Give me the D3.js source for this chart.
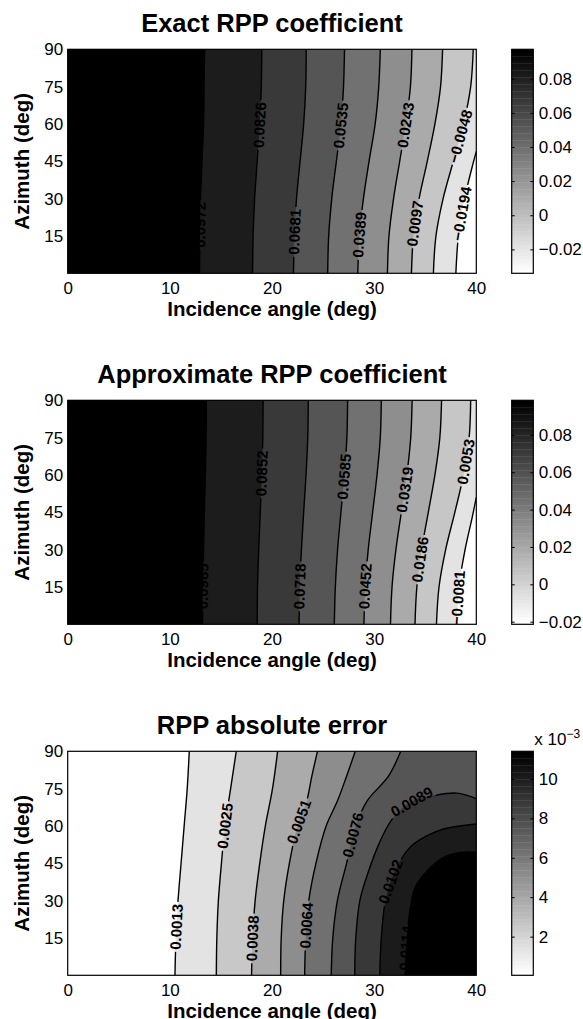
<!DOCTYPE html>
<html>
<head>
<meta charset="utf-8">
<script src="https://cdn.jsdelivr.net/npm/d3@7"></script>
<style>
  body { margin: 0; background: #fff; }
  svg { display: block; font-family: "Liberation Sans", Arial, Helvetica, sans-serif; }
</style>
</head>
<body>
<div id="vis"></div>
<script>
// ---- data ----
// axis ticks
const X_TICKS = [0, 10, 20, 30, 40];
const Y_TICKS = [15, 30, 45, 60, 75, 90];
const COEF_BAR_TICKS = [-0.02, 0, 0.02, 0.04, 0.06, 0.08];
const ERR_BAR_TICKS = [0.002, 0.004, 0.006, 0.008, 0.010];

// exact RPP coefficient: contour levels, colour range, contour lines [incidence, azimuth]
const EXACT_LEVELS = [-0.0194, -0.0048, 0.0097, 0.0243, 0.0389, 0.0535, 0.0681, 0.0826, 0.0972];
const EXACT_RANGE = [-0.0340, 0.0972];
const EXACT_LINES = [
  [[38.0, 0], [38.25, 15], [38.85, 30], [39.55, 42], [40, 49]],
  [[35.8, 0], [36.05, 15], [36.75, 30], [37.75, 45], [38.75, 60], [39.45, 75], [39.7, 90]],
  [[33.65, 0], [33.85, 15], [34.4, 30], [35.2, 45], [35.95, 60], [36.5, 75], [36.7, 90]],
  [[31.3, 0], [31.45, 15], [31.9, 30], [32.5, 45], [33.1, 60], [33.55, 75], [33.7, 90]],
  [[28.4, 0], [28.55, 15], [28.95, 30], [29.5, 45], [30.1, 60], [30.45, 75], [30.6, 90]],
  [[25.45, 0], [25.55, 15], [25.85, 30], [26.3, 45], [26.75, 60], [27.0, 75], [27.1, 90]],
  [[22.1, 0], [22.2, 15], [22.4, 30], [22.75, 45], [23.1, 60], [23.3, 75], [23.35, 90]],
  [[18.1, 0], [18.15, 15], [18.3, 30], [18.55, 45], [18.8, 60], [18.95, 75], [19.0, 90]],
  [[12.9, 0], [12.95, 15], [13.0, 30], [13.15, 45], [13.3, 60], [13.35, 75], [13.4, 90]]
];
const EXACT_LABEL_AT = [[38.6, 24], [38.5, 55], [34.2, 20], [33.2, 59.5], [28.7, 15.4],
                        [26.6, 59.5], [22.3, 16.7], [18.75, 59.5], [13.0, 19.4]];

// approximate RPP coefficient
const APPROX_LEVELS = [-0.0081, 0.0053, 0.0186, 0.0319, 0.0452, 0.0585, 0.0718, 0.0852, 0.0985];
const APPROX_RANGE = [-0.0214, 0.0985];
const APPROX_LINES = [
  [[38.1, 0], [38.3, 15], [38.9, 30], [39.6, 43], [40, 51]],
  [[36.1, 0], [36.35, 15], [37.0, 30], [37.9, 45], [38.75, 60], [39.3, 75], [39.45, 90]],
  [[34.0, 0], [34.18, 15], [34.65, 30], [35.3, 45], [35.95, 60], [36.43, 75], [36.6, 90]],
  [[31.6, 0], [31.75, 15], [32.13, 30], [32.66, 45], [33.2, 60], [33.58, 75], [33.72, 90]],
  [[29.0, 0], [29.12, 15], [29.42, 30], [29.85, 45], [30.28, 60], [30.6, 75], [30.7, 90]],
  [[26.1, 0], [26.2, 15], [26.42, 30], [26.75, 45], [27.08, 60], [27.33, 75], [27.4, 90]],
  [[22.65, 0], [22.72, 15], [22.88, 30], [23.1, 45], [23.33, 60], [23.5, 75], [23.55, 90]],
  [[18.55, 0], [18.58, 15], [18.7, 30], [18.85, 45], [19.0, 60], [19.1, 75], [19.13, 90]],
  [[13.2, 0], [13.22, 15], [13.3, 30], [13.38, 45], [13.48, 60], [13.55, 75], [13.57, 90]]
];
const APPROX_LABEL_AT = [[38.5, 10.5], [39.4, 65], [34.5, 26], [33.0, 54], [29.2, 15.3],
                         [27.0, 59.3], [22.7, 15.3], [19.0, 60.7], [13.2, 15.3]];

// RPP absolute error
const ERROR_LEVELS = [0.0013, 0.0025, 0.0038, 0.0051, 0.0064, 0.0076, 0.0089, 0.0102, 0.0114];
const ERROR_RANGE = [0.00004, 0.0114];
const ERROR_LINES = [
  [[11.9, 90], [11.7, 75], [11.4, 60], [11.1, 45], [10.8, 30], [10.6, 15], [10.5, 0]],
  [[16.5, 90], [15.95, 75], [15.4, 60], [15.05, 45], [14.75, 30], [14.6, 15], [14.55, 0]],
  [[20.55, 90], [20.05, 75], [19.35, 60], [18.8, 45], [18.35, 30], [18.1, 15], [18.0, 0]],
  [[24.45, 90], [23.9, 80], [23.4, 70], [22.5, 60], [21.7, 45], [21.15, 30], [20.9, 15], [20.85, 0]],
  [[28.15, 90], [27.3, 80], [26.4, 70], [25.3, 60], [24.3, 45], [23.6, 30], [23.3, 15], [23.2, 0]],
  [[32.6, 90], [31.4, 80], [29.3, 70], [28.2, 60], [27.3, 45], [26.4, 30], [25.95, 15], [25.8, 0]],
  [[40, 71], [38.1, 73.2], [35.8, 72.2], [33.9, 70.2], [31.9, 63.5], [30.6, 54], [29.3, 40], [28.6, 30], [28.2, 15], [28.1, 0]],
  [[40, 60.8], [36.8, 58.8], [35.2, 56.1], [33.5, 51.4], [31.9, 40.6], [31.1, 30], [30.7, 15], [30.55, 0]],
  [[40, 49.5], [38.4, 49.4], [36.8, 47.4], [35.2, 42], [34.0, 35.2], [33.4, 23], [33.1, 10], [33.0, 0]]
];
const ERROR_LABEL_AT = [[10.3, 19.5], [15.4, 60], [17.6, 14.8], [22.45, 62], [23.1, 20],
                        [27.8, 56.5], [33.8, 69], [31.5, 37.7], [32.8, 11]];

// ---- layout ----
const WIDTH = 583, HEIGHT = 1019;
const PLOT_LEFT = 67.7, PLOT_W = 408.6, PLOT_H = 224;
const PANEL_TOPS = [49.3, 400.3, 751.3];
const CBAR_X = 511.7, CBAR_W = 21.6;
const X_DOMAIN = [0, 40], Y_DOMAIN = [0, 90];

const PANELS = [
  {title: "Exact RPP coefficient", levels: EXACT_LEVELS, range: EXACT_RANGE,
   lines: EXACT_LINES, labelAt: EXACT_LABEL_AT, barTicks: COEF_BAR_TICKS, barMult: 1, exponent: null},
  {title: "Approximate RPP coefficient", levels: APPROX_LEVELS, range: APPROX_RANGE,
   lines: APPROX_LINES, labelAt: APPROX_LABEL_AT, barTicks: COEF_BAR_TICKS, barMult: 1, exponent: null},
  {title: "RPP absolute error", levels: ERROR_LEVELS, range: ERROR_RANGE,
   lines: ERROR_LINES, labelAt: ERROR_LABEL_AT, barTicks: ERR_BAR_TICKS, barMult: 1000, exponent: "\u22123"}
];

const SVG = d3.select("#vis").append("svg")
  .attr("width", WIDTH)
  .attr("height", HEIGHT);
const DEFS = SVG.append("defs");

// position of a boundary point along the plot rectangle, counter-clockwise from (0,0)
function perim(p) {
  const e = 1e-6;
  const [x0, x1] = X_DOMAIN, [y0, y1] = Y_DOMAIN;
  if (Math.abs(p[1] - y0) < e && p[0] < x1 - e) return (p[0] - x0) / (x1 - x0);
  if (Math.abs(p[0] - x1) < e && p[1] < y1 - e) return 1 + (p[1] - y0) / (y1 - y0);
  if (Math.abs(p[1] - y1) < e && p[0] > x0 + e) return 2 + (x1 - p[0]) / (x1 - x0);
  return 3 + (y1 - p[1]) / (y1 - y0);
}
const CORNERS = [[X_DOMAIN[0], Y_DOMAIN[0]], [X_DOMAIN[1], Y_DOMAIN[0]],
                 [X_DOMAIN[1], Y_DOMAIN[1]], [X_DOMAIN[0], Y_DOMAIN[1]]];

// corners needed to close a contour around its high side (high side lies left of travel)
function closingCorners(line) {
  const s = perim(line[0]);
  const e = perim(line[line.length - 1]);
  let stop = s;
  if (stop <= e) stop += 4;
  const out = [];
  for (let k = Math.ceil(e + 1e-9); k < stop; k++) out.push(CORNERS[k % 4]);
  return out;
}

function drawPanel(cfg, idx) {
  const top = PANEL_TOPS[idx];
  const X_SCALE = d3.scaleLinear().domain(X_DOMAIN).range([PLOT_LEFT, PLOT_LEFT + PLOT_W]);
  const Y_SCALE = d3.scaleLinear().domain(Y_DOMAIN).range([top + PLOT_H, top]);
  const COLOR = d3.scaleLinear().domain(cfg.range).range(["#ffffff", "#000000"]).clamp(true);

  const lineGen = d3.line()
    .x((d) => X_SCALE(d[0]))
    .y((d) => Y_SCALE(d[1]))
    .curve(d3.curveCatmullRom.alpha(0.5));

  // clip to the axes box
  DEFS.append("clipPath").attr("id", "clip" + idx)
    .append("rect")
      .attr("x", PLOT_LEFT).attr("y", top)
      .attr("width", PLOT_W).attr("height", PLOT_H);

  const plot = SVG.append("g").attr("clip-path", "url(#clip" + idx + ")");

  // background = lowest colour
  plot.append("rect")
    .attr("x", PLOT_LEFT).attr("y", top)
    .attr("width", PLOT_W).attr("height", PLOT_H)
    .attr("fill", COLOR(cfg.range[0]));

  // filled bands, painted from the lowest level up
  plot.append("g").selectAll("path")
    .data(cfg.lines)
    .enter()
    .append("path")
      .attr("d", (d) => lineGen(d) +
        closingCorners(d).map((c) => "L" + X_SCALE(c[0]) + "," + Y_SCALE(c[1])).join("") + "Z")
      .attr("fill", (d, i) => COLOR(cfg.levels[i]))
      .attr("stroke", "none");

  // contour lines (with gaps under the labels through a mask)
  const mask = DEFS.append("mask").attr("id", "mask" + idx)
    .attr("maskUnits", "userSpaceOnUse")
    .attr("x", 0).attr("y", 0).attr("width", WIDTH).attr("height", HEIGHT);
  mask.append("rect").attr("width", WIDTH).attr("height", HEIGHT).attr("fill", "white");

  const lines = plot.append("g").attr("mask", "url(#mask" + idx + ")")
    .selectAll("path")
    .data(cfg.lines)
    .enter()
    .append("path")
      .attr("d", (d) => lineGen(d))
      .attr("fill", "none")
      .attr("stroke", "#000")
      .attr("stroke-width", 1.4);

  // contour labels, snapped onto their line
  const fmt = d3.format(".4f");
  const labelG = plot.append("g");
  lines.each(function (d, i) {
    const node = this;
    const len = node.getTotalLength();
    const tx = X_SCALE(cfg.labelAt[i][0]), ty = Y_SCALE(cfg.labelAt[i][1]);
    let best = 0, bestD = Infinity;
    for (let s = 0; s <= len; s += 0.5) {
      const p = node.getPointAtLength(s);
      const dd = (p.x - tx) * (p.x - tx) + (p.y - ty) * (p.y - ty);
      if (dd < bestD) { bestD = dd; best = s; }
    }
    const c = node.getPointAtLength(best);
    const a = node.getPointAtLength(Math.max(0, best - 5));
    const b = node.getPointAtLength(Math.min(len, best + 5));
    let ang = Math.atan2(b.y - a.y, b.x - a.x) * 180 / Math.PI;
    if (ang >= 90) ang -= 180;
    else if (ang < -90) ang += 180;

    const t = labelG.append("text")
      .attr("transform", "translate(" + c.x + "," + c.y + ") rotate(" + ang + ")")
      .attr("text-anchor", "middle")
      .attr("dy", "0.35em")
      .style("font-size", "15px")
      .style("font-weight", "bold")
      .attr("fill", "#000")
      .text(fmt(cfg.levels[i]));
    const w = t.node().getComputedTextLength() + 4;
    mask.append("rect")
      .attr("x", -w / 2).attr("y", -6)
      .attr("width", w).attr("height", 12)
      .attr("transform", "translate(" + c.x + "," + c.y + ") rotate(" + ang + ")")
      .attr("fill", "black");
  });

  // axes (ticks hidden under the fill, as in the original)
  const xAxis = SVG.append("g")
    .attr("transform", "translate(0," + (top + PLOT_H) + ")")
    .call(d3.axisBottom(X_SCALE).tickValues(X_TICKS).tickSize(0).tickPadding(9));
  const yAxis = SVG.append("g")
    .attr("transform", "translate(" + PLOT_LEFT + ",0)")
    .call(d3.axisLeft(Y_SCALE).tickValues(Y_TICKS).tickSize(0).tickPadding(4.5));
  [xAxis, yAxis].forEach((g) => {
    g.select(".domain").remove();
    g.selectAll("text").style("font-size", "17px").attr("fill", "#000")
      .style("font-family", "'Liberation Sans', Arial, Helvetica, sans-serif");
  });

  // box
  SVG.append("rect")
    .attr("x", PLOT_LEFT).attr("y", top)
    .attr("width", PLOT_W).attr("height", PLOT_H)
    .attr("fill", "none")
    .attr("stroke", "#000")
    .attr("stroke-width", 1.2);

  // title and axis labels
  SVG.append("text")
    .attr("x", PLOT_LEFT + PLOT_W / 2)
    .attr("y", top - 17.6)
    .attr("text-anchor", "middle")
    .style("font-size", "25.5px")
    .style("font-weight", "bold")
    .text(cfg.title);

  SVG.append("text")
    .attr("x", PLOT_LEFT + PLOT_W / 2)
    .attr("y", top + PLOT_H + 42.5)
    .attr("text-anchor", "middle")
    .style("font-size", "20.5px")
    .style("font-weight", "bold")
    .text("Incidence angle (deg)");

  SVG.append("text")
    .attr("transform", "translate(29," + (top + PLOT_H / 2) + ") rotate(-90)")
    .attr("text-anchor", "middle")
    .style("font-size", "20.5px")
    .style("font-weight", "bold")
    .text("Azimuth (deg)");

  // colorbar
  const CB_SCALE = d3.scaleLinear().domain(cfg.range).range([top + PLOT_H, top]);
  const steps = d3.range(64);
  const span = cfg.range[1] - cfg.range[0];
  SVG.append("g").selectAll("rect")
    .data(steps)
    .enter()
    .append("rect")
      .attr("x", CBAR_X)
      .attr("y", (k) => CB_SCALE(cfg.range[0] + (k + 1) * span / 64))
      .attr("width", CBAR_W)
      .attr("height", (k) => CB_SCALE(cfg.range[0] + k * span / 64) - CB_SCALE(cfg.range[0] + (k + 1) * span / 64) + 0.4)
      .attr("fill", (k) => COLOR(cfg.range[0] + k / 63 * span));

  const barFmt = d3.format("~g");
  const cbRight = SVG.append("g")
    .attr("transform", "translate(" + (CBAR_X + CBAR_W) + ",0)")
    .call(d3.axisRight(CB_SCALE).tickValues(cfg.barTicks).tickSize(-3).tickPadding(5.5)
      .tickFormat((v) => barFmt(v * cfg.barMult)));
  const cbLeft = SVG.append("g")
    .attr("transform", "translate(" + CBAR_X + ",0)")
    .call(d3.axisLeft(CB_SCALE).tickValues(cfg.barTicks).tickSize(-3).tickFormat(""));
  [cbRight, cbLeft].forEach((g) => {
    g.select(".domain").remove();
    g.selectAll("line").attr("stroke", "#000").attr("stroke-width", 1);
  });
  cbRight.selectAll("text").style("font-size", "17px").attr("fill", "#000")
    .attr("text-anchor", "start")
    .style("font-family", "'Liberation Sans', Arial, Helvetica, sans-serif");

  SVG.append("rect")
    .attr("x", CBAR_X).attr("y", top)
    .attr("width", CBAR_W).attr("height", PLOT_H)
    .attr("fill", "none")
    .attr("stroke", "#000")
    .attr("stroke-width", 1.2);

  if (cfg.exponent) {
    const ex = SVG.append("text")
      .attr("x", CBAR_X + CBAR_W + 1)
      .attr("y", top - 6)
      .style("font-size", "17px")
      .text("x 10");
    ex.append("tspan")
      .attr("dy", "-0.6em")
      .style("font-size", "12px")
      .text(cfg.exponent);
  }
}

PANELS.forEach(drawPanel);
</script>
</body>
</html>
